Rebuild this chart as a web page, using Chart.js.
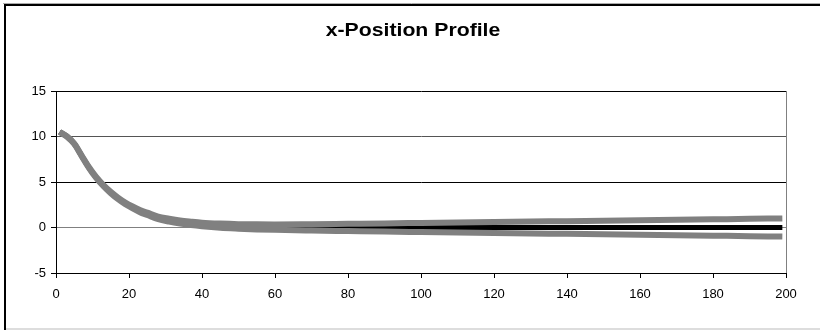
<!DOCTYPE html>
<html>
<head>
<meta charset="utf-8">
<script src="https://cdn.jsdelivr.net/npm/chart.js@4"></script>
<style>
html,body{margin:0;padding:0;background:#fff;}
#wrap{width:820px;height:330px;position:relative;}
</style>
</head>
<body>
<div id="wrap"><canvas id="c" width="820" height="330"></canvas></div>
<script>
const chartTitle = "x-Position Profile";
const xValues = [1,3,5,7,9,11,13,15,17,19,21,23,25,28,31,34,37,40,45,50,55,60,70,80,90,100,110,120,130,140,150,160,170,180,190,199];
const meanValues = [10.5,10.0,9.2,7.9,6.6,5.5,4.6,3.85,3.2,2.65,2.2,1.8,1.5,1.05,0.8,0.6,0.45,0.33,0.2,0.12,0.07,0.04,0.02,0.01,0,0,0,0,0,0,0,0,0,0,0,0];
const upperValues = [10.5,10.02,9.23,7.94,6.65,5.56,4.67,3.93,3.29,2.75,2.31,1.92,1.63,1.19,0.96,0.77,0.64,0.53,0.43,0.37,0.35,0.34,0.37,0.41,0.45,0.5,0.55,0.6,0.65,0.7,0.75,0.8,0.85,0.9,0.95,1.0];
const lowerValues = [10.5,9.98,9.17,7.86,6.55,5.44,4.53,3.77,3.11,2.55,2.09,1.68,1.37,0.91,0.64,0.43,0.26,0.13,-0.03,-0.13,-0.21,-0.26,-0.33,-0.39,-0.45,-0.5,-0.55,-0.6,-0.65,-0.7,-0.75,-0.8,-0.85,-0.9,-0.95,-1.0];
const yTicks = [-5,0,5,10,15];
const xTicks = [0,20,40,60,80,100,120,140,160,180,200];

function pts(ys){ return xValues.map((x,i)=>({x:x,y:ys[i]})); }

const framePlugin = {
  id:'frame',
  beforeDraw(chart){
    const ctx = chart.ctx;
    ctx.save();
    ctx.fillStyle='#fff';
    ctx.fillRect(0,0,820,330);
    ctx.strokeStyle='#000';
    ctx.lineWidth=2;
    ctx.beginPath();
    ctx.moveTo(5,330); ctx.lineTo(5,5); ctx.lineTo(820,5);
    ctx.stroke();
    ctx.strokeStyle='#aaa'; ctx.lineWidth=1;
    ctx.beginPath(); ctx.moveTo(3,3.5); ctx.lineTo(820,3.5); ctx.stroke();
    ctx.strokeStyle='#ddd'; ctx.lineWidth=2;
    ctx.beginPath(); ctx.moveTo(6,329); ctx.lineTo(820,329); ctx.stroke();
    // title
    ctx.fillStyle='#000';
    ctx.font='bold 18px "Liberation Sans", Arial, sans-serif';
    ctx.textAlign='center'; ctx.textBaseline='middle';
    ctx.translate(413,31);
    ctx.scale(1.18,1);
    ctx.fillText(chartTitle,0,0);
    ctx.restore();
  }
};

new Chart(document.getElementById('c'),{
  type:'line',
  data:{
    datasets:[
      {label:'upper',data:pts(upperValues),borderColor:'#808080',borderWidth:6,pointRadius:0,cubicInterpolationMode:'monotone',order:1},
      {label:'lower',data:pts(lowerValues),borderColor:'#808080',borderWidth:6,pointRadius:0,cubicInterpolationMode:'monotone',order:1},
      {label:'mean',data:pts(meanValues),borderColor:'#000',borderWidth:5,pointRadius:0,cubicInterpolationMode:'monotone',order:2}
    ]
  },
  options:{
    responsive:false,
    animation:false,
    events:[],
    layout:{padding:{left:0,top:91,right:34,bottom:0}},
    plugins:{legend:{display:false},title:{display:false},tooltip:{enabled:false}},
    scales:{
      x:{
        type:'linear',min:0,max:200,
        afterBuildTicks(s){ s.ticks = xTicks.map(v=>({value:v})); },
        afterFit(s){ s.height = 57; },
        border:{display:true,color:'#000',width:1},
        grid:{
          color:(c)=> c.tick && c.tick.value===200 ? '#808080' : 'rgba(0,0,0,0)',
          tickColor:'#000',tickLength:5,drawOnChartArea:true
        },
        ticks:{color:'#000',font:{family:'"Liberation Sans", Arial, sans-serif',size:13},padding:9,maxRotation:0,autoSkip:false}
      },
      y:{
        type:'linear',min:-5,max:15,
        afterBuildTicks(s){ s.ticks = yTicks.map(v=>({value:v})); },
        afterFit(s){ s.width = 56; },
        border:{display:true,color:'#000',width:1},
        grid:{
          color:(c)=>{ const v=c.tick&&c.tick.value; if(v===0) return '#808080'; if(v===10) return '#555'; return '#000'; },
          tickColor:'#000',tickLength:5
        },
        ticks:{color:'#000',font:{family:'"Liberation Sans", Arial, sans-serif',size:13},padding:5}
      }
    }
  },
  plugins:[framePlugin]
});
</script>
</body>
</html>
